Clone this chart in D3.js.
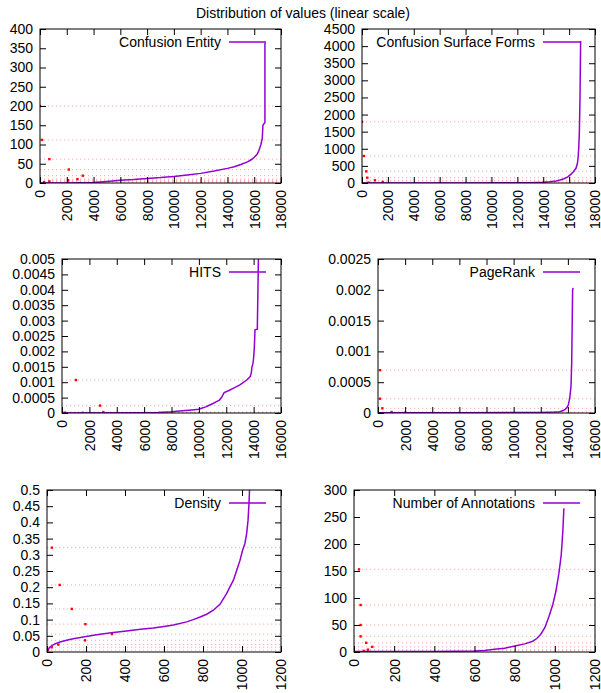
<!DOCTYPE html>
<html>
<head>
<meta charset="utf-8">
<script src="https://cdn.jsdelivr.net/npm/d3@7"></script>
<style>
html, body { margin: 0; padding: 0; background: #fff; }
svg { display: block; font-family: "Liberation Sans", Arial, Helvetica, sans-serif; }
</style>
</head>
<body>
<svg id="chart" width="601" height="693"></svg>
<script>
// ============ Data ============
const TITLE = "Distribution of values (linear scale)";

const seriesNames = ["Confusion Entity", "Confusion Surface Forms", "HITS", "PageRank", "Density", "Number of Annotations"];

// sorted value curve: [rank, value]
const confEntityCurve = [[0,0],[2000,0],[4000,1],[5000,4],[6000,7],[7000,9],[8000,12],[9000,14],[10000,17],[11000,21],[12000,25],[13000,31],[14000,38],[14500,42],[15000,48],[15500,55],[15800,61],[16000,67],[16200,74],[16350,84],[16500,100],[16600,115],[16650,150],[16750,155],[16800,157],[16800,365]];
const confSurfaceCurve = [[0,1],[4000,1],[8000,2],[12000,5],[13000,10],[14000,20],[14500,35],[15000,60],[15300,88],[15600,125],[15900,180],[16150,260],[16330,330],[16530,430],[16640,570],[16700,760],[16740,1010],[16790,1450],[16840,2420],[16890,4150]];
const hitsCurve = [[0,0],[6000,0.00001],[7000,0.00002],[8000,0.00004],[9000,0.00008],[9500,0.0001],[10000,0.00012],[10250,0.00016],[10500,0.0002],[10750,0.00025],[11000,0.0003],[11250,0.00036],[11500,0.00042],[11650,0.0005],[11750,0.00058],[11850,0.00066],[12200,0.00073],[12500,0.0008],[13000,0.00091],[13500,0.00107],[13750,0.00118],[13830,0.0013],[13880,0.0015],[13950,0.0016],[14000,0.0018],[14050,0.0021],[14100,0.0027],[14270,0.00272],[14370,0.0056]];
const pageRankCurve = [[0,0.000005],[6000,0.000006],[10000,0.000008],[12000,0.00001],[13000,0.000015],[13400,0.00002],[13650,0.00004],[13800,0.00006],[13930,0.00009],[14030,0.00013],[14100,0.0002],[14150,0.00027],[14230,0.00043],[14280,0.0008],[14350,0.002],[14380,0.00203]];
const densityCurve = [[0,0],[5,0.008],[15,0.0155],[40,0.025],[67,0.031],[100,0.036],[135,0.041],[200,0.048],[272,0.0546],[340,0.06],[408,0.065],[480,0.07],[545,0.074],[600,0.079],[648,0.0835],[716,0.093],[750,0.1],[785,0.108],[819,0.1165],[853,0.129],[887,0.147],[905,0.165],[921,0.18],[938,0.201],[956,0.2216],[973,0.2526],[990,0.2835],[1003,0.314],[1015,0.335],[1024,0.366],[1031,0.407],[1036,0.46],[1040,0.52]];
const annotationsCurve = [[0,1],[400,1],[600,2],[650,3],[700,5],[750,7],[800,11],[850,15],[890,20],[910,25],[930,33],[950,45],[970,65],[990,88],[1005,112],[1020,145],[1032,180],[1040,225],[1045,266]];

// red sample points (each also drawn as a dotted level line)
const confEntityPoints = [[0,200],[150,112],[700,62],[2150,35],[3200,19],[2800,10],[2100,7],[700,4],[300,2]];
const confSurfacePoints = [[0,1790],[150,789],[330,341],[410,155],[1000,79],[1600,30],[500,10]];
const hitsPoints = [[1020,0.00107],[2780,0.00024],[3020,0.00003],[200,0.00001],[1500,0.000005]];
const pageRankPoints = [[150,0.000695],[150,0.000232],[320,0.000076],[1000,0.000016],[2000,0.000005]];
const densityPoints = [[25,0.322],[65,0.207],[127,0.133],[197,0.086],[333,0.0553],[195,0.036],[58,0.023],[24,0.0145],[5,0.006]];
const annotationsPoints = [[25,153],[33,87],[33,50],[33,29],[61,17],[91,9.5],[70,4.3],[50,2]];

// axes
const xMaxes = [18000, 18000, 16000, 16000, 1200, 1200];
const yMaxes = [400, 4500, 0.005, 0.0025, 0.5, 300];
const xTicksLarge = [0,2000,4000,6000,8000,10000,12000,14000,16000,18000];
const xTicksHits = [0,2000,4000,6000,8000,10000,12000,14000,16000];
const xTicksSmall = [0,200,400,600,800,1000,1200];
const yTicksEntity = [0,50,100,150,200,250,300,350,400];
const yTicksSurface = [0,500,1000,1500,2000,2500,3000,3500,4000,4500];
const yTicksHits = [0,0.0005,0.001,0.0015,0.002,0.0025,0.003,0.0035,0.004,0.0045,0.005];
const yLabelsHits = ["0","0.0005","0.001","0.0015","0.002","0.0025","0.003","0.0035","0.004","0.0045","0.005"];
const yTicksPageRank = [0,0.0005,0.001,0.0015,0.002,0.0025];
const yLabelsPageRank = ["0","0.0005","0.001","0.0015","0.002","0.0025"];
const yTicksDensity = [0,0.05,0.1,0.15,0.2,0.25,0.3,0.35,0.4,0.45,0.5];
const yLabelsDensity = ["0","0.05","0.1","0.15","0.2","0.25","0.3","0.35","0.4","0.45","0.5"];
const yTicksAnnotations = [0,50,100,150,200,250,300];

// ============ Layout ============
const FRAMES = [
  { left: 40,  right: 281, top: 29,  bottom: 183 },
  { left: 362, right: 595, top: 29,  bottom: 183 },
  { left: 62,  right: 281, top: 259, bottom: 413 },
  { left: 378, right: 595, top: 259, bottom: 413 },
  { left: 47,  right: 281, top: 490, bottom: 652 },
  { left: 354, right: 595, top: 490, bottom: 652 }
];
const FONT_SIZE = 14;
const LINE_COLOR = "#9400d3";

const panels = [
  { curve: confEntityCurve,  points: confEntityPoints,  xTicks: xTicksLarge, yTicks: yTicksEntity,      yLabels: null },
  { curve: confSurfaceCurve, points: confSurfacePoints, xTicks: xTicksLarge, yTicks: yTicksSurface,     yLabels: null },
  { curve: hitsCurve,        points: hitsPoints,        xTicks: xTicksHits,  yTicks: yTicksHits,        yLabels: yLabelsHits },
  { curve: pageRankCurve,    points: pageRankPoints,    xTicks: xTicksHits,  yTicks: yTicksPageRank,    yLabels: yLabelsPageRank },
  { curve: densityCurve,     points: densityPoints,     xTicks: xTicksSmall, yTicks: yTicksDensity,     yLabels: yLabelsDensity },
  { curve: annotationsCurve, points: annotationsPoints, xTicks: xTicksSmall, yTicks: yTicksAnnotations, yLabels: null }
].map((p, i) => Object.assign(p, { name: seriesNames[i], xMax: xMaxes[i], yMax: yMaxes[i] }));

// ============ Render ============
const svg = d3.select("#chart");

svg.append("text")
  .attr("x", 303).attr("y", 18)
  .attr("text-anchor", "middle")
  .attr("font-size", FONT_SIZE)
  .attr("fill", "#000")
  .text(TITLE);

panels.forEach(drawPanel);

function styleAxis(g){
  g.attr("font-size", FONT_SIZE).attr("font-family", null);
  g.select(".domain").remove();
  g.selectAll(".tick line").attr("stroke", "#000");
  g.selectAll(".tick text").attr("fill", "#000");
}

function drawPanel(p, i){
  const f = FRAMES[i];
  const x = d3.scaleLinear().domain([0, p.xMax]).range([f.left, f.right]);
  const y = d3.scaleLinear().domain([0, p.yMax]).range([f.bottom, f.top]);
  const g = svg.append("g").attr("class", "panel");

  const clipId = "clip-" + i;
  g.append("clipPath").attr("id", clipId)
    .append("rect")
    .attr("x", f.left).attr("y", f.top)
    .attr("width", f.right - f.left).attr("height", f.bottom - f.top);

  const plot = g.append("g").attr("clip-path", `url(#${clipId})`);

  // dotted level lines for the red samples
  plot.selectAll("line.level")
    .data(p.points)
    .join("line")
    .attr("class", "level")
    .attr("x1", f.left).attr("x2", f.right)
    .attr("y1", d => y(d[1])).attr("y2", d => y(d[1]))
    .attr("stroke", "#ff8c8c")
    .attr("stroke-opacity", 0.75)
    .attr("stroke-width", 1)
    .attr("stroke-dasharray", "1.2,2.8");

  plot.selectAll("rect.pt")
    .data(p.points)
    .join("rect")
    .attr("class", "pt")
    .attr("x", d => x(d[0]) - 1.2).attr("y", d => y(d[1]) - 1.2)
    .attr("width", 2.4).attr("height", 2.4)
    .attr("fill", "#ff0000");

  // axes: ticks inward on all four sides
  const yLabel = d => p.yLabels ? p.yLabels[p.yTicks.indexOf(d)] : String(d);
  g.append("g").attr("transform", `translate(${f.left},0)`)
    .call(d3.axisLeft(y).tickValues(p.yTicks).tickFormat(yLabel).tickSize(-6).tickPadding(7))
    .call(styleAxis);
  g.append("g").attr("transform", `translate(${f.right},0)`)
    .call(d3.axisRight(y).tickValues(p.yTicks).tickFormat("").tickSize(-6))
    .call(styleAxis);
  g.append("g").attr("transform", `translate(0,${f.top})`)
    .call(d3.axisTop(x).tickValues(p.xTicks).tickFormat("").tickSize(-6))
    .call(styleAxis);
  g.append("g").attr("transform", `translate(0,${f.bottom})`)
    .call(d3.axisBottom(x).tickValues(p.xTicks).tickFormat(d => String(d)).tickSize(-6))
    .call(styleAxis)
    .call(a => a.selectAll(".tick text")
      .attr("transform", "rotate(-90)")
      .attr("x", -7).attr("y", 0)
      .attr("dy", "0.35em")
      .attr("text-anchor", "end"));

  g.append("rect")
    .attr("x", f.left).attr("y", f.top)
    .attr("width", f.right - f.left).attr("height", f.bottom - f.top)
    .attr("fill", "none").attr("stroke", "#000").attr("stroke-width", 1);

  // curve
  const line = d3.line().x(d => x(d[0])).y(d => y(d[1]));
  plot.append("path")
    .datum(p.curve)
    .attr("d", line)
    .attr("fill", "none")
    .attr("stroke", LINE_COLOR)
    .attr("stroke-width", 1.5);

  // legend
  const ly = f.top + 13;
  g.append("text")
    .attr("x", f.right - 60).attr("y", ly)
    .attr("dy", "0.35em")
    .attr("text-anchor", "end")
    .attr("font-size", FONT_SIZE)
    .attr("fill", "#000")
    .text(p.name);
  g.append("line")
    .attr("x1", f.right - 52).attr("x2", f.right - 15)
    .attr("y1", ly).attr("y2", ly)
    .attr("stroke", LINE_COLOR)
    .attr("stroke-width", 1.5);
}
</script>
</body>
</html>
